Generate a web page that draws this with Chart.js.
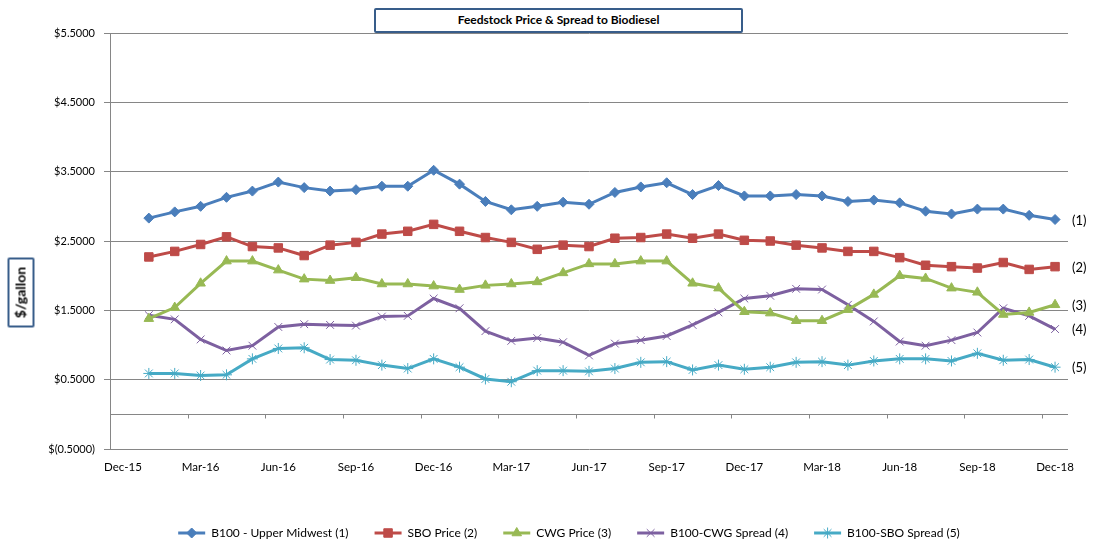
<!DOCTYPE html>
<html>
<head>
<meta charset="utf-8">
<script src="https://cdn.jsdelivr.net/npm/chart.js@4.4.0/dist/chart.umd.min.js"></script>
<style>
  html, body { margin: 0; padding: 0; background: #fff; }
  #wrap { position: relative; width: 1104px; height: 555px; }
  #chartTitle {
    position: absolute; left: 374px; top: 8px; width: 369px; height: 25px;
    box-sizing: border-box; border: 2.5px solid #385D8A; border-radius: 2px; background: #fff;
    font: bold 12px Lato, sans-serif; color: #000; text-align: center; line-height: 20px;
  }
  #yTitle {
    position: absolute; left: -14px; top: 279px; width: 70px; height: 27px;
    box-sizing: border-box; border: 2.5px solid #385D8A; border-radius: 2px; background: #fff;
    font: bold 14px Lato, sans-serif; color: #000; text-align: center; line-height: 21px;
    transform: rotate(-90deg);
  }
</style>
</head>
<body>
<div id="wrap">
  <canvas id="chart"></canvas>
  <div id="chartTitle">Feedstock Price &amp; Spread to Biodiesel</div>
  <div id="yTitle">$/gallon</div>
</div>
<script>
const months = ['Dec-15','Jan-16','Feb-16','Mar-16','Apr-16','May-16','Jun-16','Jul-16','Aug-16','Sep-16','Oct-16','Nov-16',
  'Dec-16','Jan-17','Feb-17','Mar-17','Apr-17','May-17','Jun-17','Jul-17','Aug-17','Sep-17','Oct-17','Nov-17',
  'Dec-17','Jan-18','Feb-18','Mar-18','Apr-18','May-18','Jun-18','Jul-18','Aug-18','Sep-18','Oct-18','Nov-18','Dec-18'];

// monthly values Jan-16 .. Dec-18 ($/gallon)
const b100Midwest = [2.83,2.92,3.00,3.13,3.22,3.35,3.27,3.22,3.24,3.29,3.29,3.52,3.32,3.07,2.95,3.00,3.06,3.03,
  3.20,3.28,3.34,3.17,3.30,3.15,3.15,3.17,3.15,3.07,3.09,3.05,2.93,2.89,2.96,2.96,2.87,2.81];
const sboPrice = [2.27,2.35,2.45,2.56,2.42,2.40,2.29,2.44,2.48,2.60,2.64,2.74,2.64,2.55,2.48,2.38,2.44,2.42,
  2.54,2.55,2.60,2.54,2.60,2.51,2.50,2.44,2.40,2.35,2.35,2.26,2.15,2.13,2.11,2.19,2.09,2.13];
const cwgPrice = [1.38,1.54,1.89,2.21,2.21,2.08,1.95,1.93,1.97,1.88,1.88,1.85,1.80,1.86,1.88,1.91,2.04,2.17,
  2.17,2.21,2.21,1.89,1.82,1.48,1.46,1.35,1.35,1.51,1.73,2.00,1.96,1.82,1.76,1.44,1.47,1.58];
const cwgSpread = [1.43,1.37,1.08,0.92,0.99,1.26,1.30,1.29,1.28,1.41,1.42,1.67,1.53,1.20,1.06,1.10,1.04,0.85,
  1.02,1.07,1.13,1.29,1.47,1.67,1.71,1.81,1.80,1.58,1.34,1.05,0.99,1.07,1.18,1.53,1.42,1.23];
const sboSpread = [0.59,0.59,0.56,0.57,0.80,0.95,0.96,0.79,0.78,0.71,0.66,0.80,0.68,0.51,0.47,0.63,0.63,0.62,
  0.66,0.75,0.76,0.64,0.71,0.65,0.68,0.75,0.76,0.71,0.77,0.80,0.80,0.77,0.88,0.78,0.79,0.68];

const seriesNames = ['B100 - Upper Midwest (1)','SBO Price (2)','CWG Price (3)','B100-CWG Spread (4)','B100-SBO Spread (5)'];
const endTags = ['(1)','(2)','(3)','(4)','(5)'];
const yTicks = { min: -0.5, max: 5.5, step: 1 };

const gridGray = '#868686';
const font = 'Lato, sans-serif';

const styles = [
  { color: '#4A7EBB', marker: 'rectRot', r: 5 },
  { color: '#BE4B48', marker: 'rect', r: 6 },
  { color: '#98B954', marker: 'triangle', r: 5.5 },
  { color: '#7D60A0', marker: 'crossRot', r: 5.5 },
  { color: '#46AAC5', marker: 'star', r: 5.5 }
];

const allSeries = [b100Midwest, sboPrice, cwgPrice, cwgSpread, sboSpread];

const datasets = allSeries.map((vals, i) => ({
  label: seriesNames[i],
  data: [null].concat(vals),
  borderColor: styles[i].color,
  backgroundColor: styles[i].color,
  borderWidth: 3,
  pointStyle: styles[i].marker,
  pointRadius: styles[i].r,
  pointHoverRadius: styles[i].r,
  pointBackgroundColor: styles[i].color,
  pointBorderColor: styles[i].color,
  pointBorderWidth: 1,
  tension: 0,
  fill: false
}));

// horizontal axis crosses at zero, with a tick every 3 months
const zeroAxis = {
  id: 'zeroAxis',
  beforeDatasetsDraw(chart) {
    const { ctx, chartArea, scales: { x, y } } = chart;
    const y0 = Math.round(y.getPixelForValue(0)) + 0.5;
    ctx.save();
    ctx.strokeStyle = gridGray;
    ctx.lineWidth = 1;
    ctx.beginPath();
    ctx.moveTo(chartArea.left, y0);
    ctx.lineTo(chartArea.right, y0);
    for (let k = 3; k < months.length; k += 3) {
      const xb = Math.round((x.getPixelForValue(k) + x.getPixelForValue(k - 1)) / 2) + 0.5;
      ctx.moveTo(xb, y0);
      ctx.lineTo(xb, y0 + 4);
    }
    ctx.stroke();
    ctx.restore();
  }
};

// "(n)" tags next to the last point of each series
const endLabels = {
  id: 'endLabels',
  afterDatasetsDraw(chart) {
    const { ctx, chartArea } = chart;
    ctx.save();
    ctx.font = '13px ' + font;
    ctx.fillStyle = '#000';
    ctx.textAlign = 'left';
    ctx.textBaseline = 'middle';
    chart.data.datasets.forEach((ds, i) => {
      const pts = chart.getDatasetMeta(i).data;
      const last = pts[pts.length - 1];
      ctx.fillText(endTags[i], chartArea.right + 4, last.y + 1);
    });
    ctx.restore();
  }
};

// legend nudged towards the plot centre; each legend line gets its series marker
const legendMarkers = {
  id: 'legendMarkers',
  afterLayout(chart) {
    const lg = chart.legend;
    if (!lg) return;
    const shift = (chart.chartArea.left + chart.chartArea.right) / 2 - (lg.left + lg.right) / 2 - 20;
    lg.left += shift;
    lg.right += shift;
  },
  afterDraw(chart) {
    const lg = chart.legend;
    if (!lg || !lg.legendHitBoxes) return;
    const ctx = chart.ctx;
    const bw = lg.options.labels.boxWidth;
    lg.legendHitBoxes.forEach((hb, i) => {
      const st = styles[i];
      ctx.save();
      ctx.fillStyle = st.color;
      ctx.strokeStyle = st.color;
      ctx.lineWidth = 1;
      Chart.helpers.drawPoint(ctx, { pointStyle: st.marker, radius: st.r, rotation: 0, borderWidth: 1 },
        hb.left + bw / 2, hb.top + hb.height / 2);
      ctx.restore();
    });
  }
};

new Chart(document.getElementById('chart'), {
  type: 'line',
  data: { labels: months, datasets: datasets },
  options: {
    responsive: true,
    maintainAspectRatio: false,
    animation: false,
    layout: { padding: { top: 33, right: 36, bottom: 6, left: 0 } },
    plugins: {
      title: { display: false },
      tooltip: { enabled: false },
      legend: {
        position: 'bottom',
        labels: {
          boxWidth: 27,
          boxHeight: 3,
          padding: 26,
          color: '#000',
          font: { family: font, size: 12 },
          generateLabels(chart) {
            return Chart.defaults.plugins.legend.labels.generateLabels(chart).map(it => {
              it.lineWidth = 0;
              it.fillStyle = styles[it.datasetIndex].color;
              return it;
            });
          }
        }
      }
    },
    scales: {
      x: {
        type: 'category',
        offset: true,
        grid: { display: false, drawTicks: false },
        border: { display: false },
        ticks: {
          autoSkip: false,
          maxRotation: 0,
          padding: 11,
          color: '#000',
          font: { family: font, size: 11.5 },
          callback: (val, idx) => (idx % 3 === 0 ? months[idx] : '')
        },
        afterFit(scale) { scale.height = 52; }
      },
      y: {
        min: yTicks.min,
        max: yTicks.max,
        grid: { color: gridGray, lineWidth: 1, drawTicks: true, tickLength: 6 },
        border: { display: true, color: gridGray, width: 1 },
        ticks: {
          stepSize: yTicks.step,
          padding: 9,
          color: '#000',
          font: { family: font, size: 11 },
          callback(v) {
            return v < 0 ? '$(' + Math.abs(v).toFixed(4) + ')' : '$' + v.toFixed(4);
          }
        },
        afterFit(scale) { scale.width = 110; }
      }
    }
  },
  plugins: [zeroAxis, endLabels, legendMarkers]
});
</script>
</body>
</html>
